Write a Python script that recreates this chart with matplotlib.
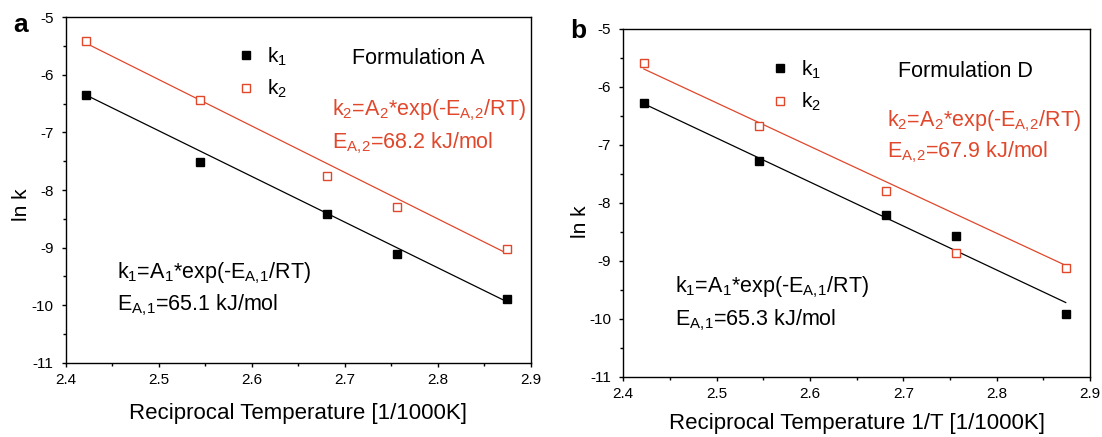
import numpy as np
import matplotlib
matplotlib.use('Agg')
import matplotlib.pyplot as plt
from matplotlib.ticker import MultipleLocator

plt.rcParams['font.family'] = ['Liberation Sans', 'DejaVu Sans']
plt.rcParams['mathtext.fontset'] = 'custom'
plt.rcParams['mathtext.rm'] = 'Liberation Sans'
plt.rcParams['mathtext.it'] = 'Liberation Sans'
plt.rcParams['mathtext.default'] = 'regular'

# reciprocal temperature [1/1000K]
inv_T = [2.422, 2.545, 2.681, 2.756, 2.874]

# formulation A: ln k values
lnk1_A = [-6.35, -7.51, -8.42, -9.11, -9.90]
lnk2_A = [-5.41, -6.44, -7.75, -8.29, -9.03]
# formulation D
lnk1_D = [-6.28, -7.28, -8.21, -8.57, -9.91]
lnk2_D = [-5.59, -6.68, -7.80, -8.87, -9.12]

# Arrhenius fit lines as drawn (value at first and last temperature)
fit1_A = [-6.35, -9.94]
fit2_A = [-5.45, -9.10]
fit1_D = [-6.29, -9.72]
fit2_D = [-5.69, -9.08]

RED = '#e0472b'
W, H = 1102, 437

panels = [
    dict(px=(65.5, 531.0, 17.3, 362.7), letter='a', letter_xy=(20.8, 31.7),
         k1=lnk1_A, k2=lnk2_A, f1=fit1_A, f2=fit2_A,
         name='Formulation A', ea1='65.1', ea2='68.2',
         xlabel='Reciprocal Temperature [1/1000K]', xlab_y=413,
         ylab_xy=(21.2, 205),
         leg=(0.366, 0.918), name_pos=(0.6146, 0.864),
         red_pos=(0.573, 0.715, 0.621), blk_pos=(0.1098, 0.2444, 0.1506)),
    dict(px=(623.3, 1090.0, 29.0, 376.7), letter='b', letter_xy=(578, 38.3),
         k1=lnk1_D, k2=lnk2_D, f1=fit1_D, f2=fit2_D,
         name='Formulation D', ea1='65.3', ea2='67.9',
         xlabel='Reciprocal Temperature 1/T [1/1000K]', xlab_y=423,
         ylab_xy=(580, 222),
         leg=(0.314, 0.915), name_pos=(0.5886, 0.863),
         red_pos=(0.5655, 0.721, 0.630), blk_pos=(0.1112, 0.2416, 0.1487)),
]

fig = plt.figure(figsize=(W / 100, H / 100), dpi=100)

for p in panels:
    x0, x1, yt, yb = p['px']
    ax = fig.add_axes([x0 / W, (H - yb) / H, (x1 - x0) / W, (yb - yt) / H])
    x = np.array(inv_T)
    xe = [inv_T[0], inv_T[-1]]

    ax.plot(xe, p['f1'], color='black', lw=0.9)
    ax.plot(xe, p['f2'], color=RED, lw=0.9)
    ax.plot(x, p['k1'], 's', color='black', ms=5.5, label=r'k$_1$', ls='none')
    ax.plot(x, p['k2'], 's', color=RED, mfc='white', mew=1.0, ms=5.5, label=r'k$_2$', ls='none')

    ax.set_xlim(2.4, 2.9)
    ax.set_ylim(-11, -5)
    ax.xaxis.set_minor_locator(MultipleLocator(0.05))
    ax.yaxis.set_minor_locator(MultipleLocator(0.5))
    ax.set_xticks([2.4, 2.5, 2.6, 2.7, 2.8, 2.9])
    ax.set_xticklabels(['2.4', '2.5', '2.6', '2.7', '2.8', '2.9'])
    ax.set_yticks([-11, -10, -9, -8, -7, -6, -5])
    ax.set_yticklabels(['-11', '-10', '-9', '-8', '-7', '-6', '-5'])
    ax.tick_params(which='major', direction='out', length=3.2, width=1, labelsize=11)
    ax.tick_params(which='minor', direction='out', length=2.2, width=1)
    ax.tick_params(axis='x', which='major', pad=4)
    ax.tick_params(axis='y', which='major', pad=5.5)
    for s in ax.spines.values():
        s.set_linewidth(1)

    ax.set_xlabel(p['xlabel'], fontsize=16)
    ax.xaxis.label.set_verticalalignment('center')
    ax.xaxis.set_label_coords(0.5, -(p['xlab_y'] - yb) / (yb - yt))

    ax.legend(loc='upper left', bbox_to_anchor=p['leg'], frameon=False, fontsize=15,
              handletextpad=0.5, labelspacing=0.48, borderaxespad=0, borderpad=0,
              handlelength=1.0)

    ax.text(*p['name_pos'], p['name'], transform=ax.transAxes, fontsize=15.5, va='baseline')
    rx, ry1, ry2 = p['red_pos']
    ax.text(rx, ry1, r'k$_2$=A$_2$*exp(-E$_{A,\!2}$/RT)', transform=ax.transAxes,
            fontsize=15.5, color=RED, va='baseline')
    ax.text(rx, ry2, r'E$_{A,\!2}$=' + p['ea2'] + ' kJ/mol', transform=ax.transAxes,
            fontsize=15.5, color=RED, va='baseline')
    bx, by1, by2 = p['blk_pos']
    ax.text(bx, by1, r'k$_1$=A$_1$*exp(-E$_{A,\!1}$/RT)', transform=ax.transAxes,
            fontsize=15.5, color='black', va='baseline')
    ax.text(bx, by2, r'E$_{A,\!1}$=' + p['ea1'] + ' kJ/mol', transform=ax.transAxes,
            fontsize=15.5, color='black', va='baseline')

    lx, ly = p['letter_xy']
    fig.text(lx / W, 1 - ly / H, p['letter'], fontsize=19, fontweight='bold',
             ha='center', va='baseline')
    yx, yy = p['ylab_xy']
    fig.text(yx / W, 1 - yy / H, 'ln k', rotation=90, fontsize=15,
             ha='center', va='center')

fig.savefig('out.png', dpi=100)
